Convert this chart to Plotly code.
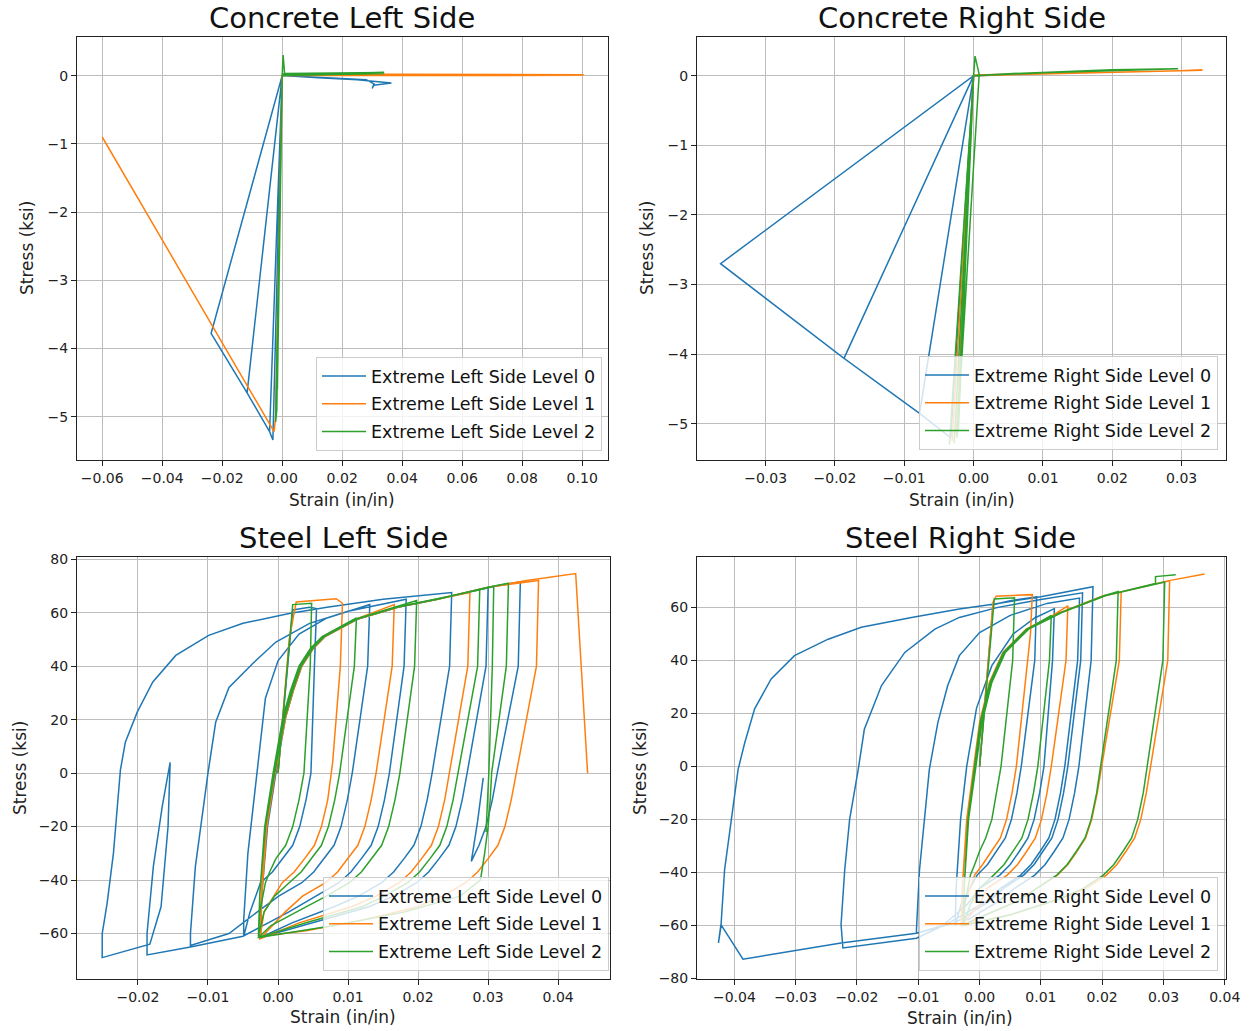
import plotly.graph_objects as go

# ---------------- labels ----------------
titles = ["Concrete Left Side", "Concrete Right Side", "Steel Left Side", "Steel Right Side"]
left_names = ["Extreme Left Side Level 0", "Extreme Left Side Level 1", "Extreme Left Side Level 2"]
right_names = ["Extreme Right Side Level 0", "Extreme Right Side Level 1", "Extreme Right Side Level 2"]
x_label = "Strain (in/in)"
y_label = "Stress (ksi)"
colors = ["#1f77b4", "#ff7f0e", "#2ca02c"]

# tick values / labels
tl_xticks = [-0.06, -0.04, -0.02, 0.0, 0.02, 0.04, 0.06, 0.08, 0.10]
tl_xtext = ["\u22120.06", "\u22120.04", "\u22120.02", "0.00", "0.02", "0.04", "0.06", "0.08", "0.10"]
tr_xticks = [-0.03, -0.02, -0.01, 0.0, 0.01, 0.02, 0.03]
tr_xtext = ["\u22120.03", "\u22120.02", "\u22120.01", "0.00", "0.01", "0.02", "0.03"]
c_yticks = [0, -1, -2, -3, -4, -5]
c_ytext = ["0", "\u22121", "\u22122", "\u22123", "\u22124", "\u22125"]
bl_xticks = [-0.02, -0.01, 0.0, 0.01, 0.02, 0.03, 0.04]
bl_xtext = ["\u22120.02", "\u22120.01", "0.00", "0.01", "0.02", "0.03", "0.04"]
bl_yticks = [80, 60, 40, 20, 0, -20, -40, -60]
bl_ytext = ["80", "60", "40", "20", "0", "\u221220", "\u221240", "\u221260"]
br_xticks = [-0.04, -0.03, -0.02, -0.01, 0.0, 0.01, 0.02, 0.03, 0.04]
br_xtext = ["\u22120.04", "\u22120.03", "\u22120.02", "\u22120.01", "0.00", "0.01", "0.02", "0.03", "0.04"]
br_yticks = [60, 40, 20, 0, -20, -40, -60, -80]
br_ytext = ["60", "40", "20", "0", "\u221220", "\u221240", "\u221260", "\u221280"]

# ---------------- Concrete Left Side (strain, stress) ----------------
cl0 = [(0.0, 0.0), (-0.0031, -5.34), (-0.0042, -5.22), (0.0, 0.0), (-0.0042, -5.22), (-0.0117, -4.65),
       (0.0, 0.0), (-0.0117, -4.65), (-0.0237, -3.78), (0.0, 0.0), (0.012, -0.03), (0.025, -0.06),
       (0.0364, -0.11), (0.0305, -0.14), (0.0300, -0.19), (0.0306, -0.12), (0.028, -0.06), (0.0, 0.0)]
cl1 = [(0.0, 0.0), (0.1005, 0.012), (0.0, 0.022), (0.1003, 0.004), (0.0, 0.0),
       (-0.0022, -5.0), (-0.0027, -5.22), (-0.06, -0.9)]
cl2 = [(0.0, 0.0), (0.0003, 0.30), (0.0008, 0.03), (0.034, 0.045), (0.0, 0.02), (0.034, 0.03), (0.0, 0.0),
       (-0.0018, -4.9), (-0.0022, -5.08), (0.0, 0.0), (-0.0016, -4.6), (0.0, 0.0), (-0.0020, -5.0), (0.0, 0.0)]

# ---------------- Concrete Right Side ----------------
cr0 = [(0.0, 0.0), (-0.0033, -5.2), (-0.0078, -4.85), (0.0, 0.0), (-0.0078, -4.85), (-0.0187, -4.06),
       (0.0, 0.0), (-0.0187, -4.06), (-0.0365, -2.70), (0.0, 0.0), (0.004, 0.01), (0.0, 0.0)]
cr1 = [(0.0, 0.0), (-0.0025, -5.15), (0.0, 0.0), (-0.0031, -5.25), (0.0, 0.0), (0.008, 0.02),
       (0.016, 0.04), (0.025, 0.06), (0.033, 0.077), (0.02, 0.05), (0.0, 0.01)]
cr2 = [(0.0, 0.0), (0.0002, 0.28), (0.0008, 0.02), (-0.0024, -5.2), (0.0, 0.0), (-0.0028, -5.28),
       (0.0, 0.0), (-0.0035, -5.3), (0.0, 0.0), (-0.0022, -5.1), (0.0, 0.0), (0.0057, 0.03),
       (0.0114, 0.05), (0.02, 0.086), (0.0295, 0.10), (0.02, 0.075), (0.01, 0.04), (0.0, 0.0)]

# ---------------- Steel Left Side ----------------
sl0 = [(0.0, 0), (0.0021, 61), (0.0045, 62), (0.0055, 61.5),
       (0.0052, 40), (0.0047, 0), (0.0040, -10), (0.0031, -20), (0.0021, -27), (0.0007, -32), (-0.0008, -37), (-0.0025, -41), (-0.0040, -52), (-0.0049, -61),
       (-0.0049, -55), (-0.0043, -30), (-0.0030, 0), (-0.0018, 28), (0.0000, 42), (0.0030, 52), (0.0070, 58), (0.0131, 63),
       (0.0128, 40), (0.0106, 0), (0.0099, -10), (0.0090, -20), (0.0080, -27), (0.0066, -32), (0.0051, -37), (0.0034, -41), (0.0001, -46), (-0.0030, -52), (-0.0070, -60), (-0.0125, -64.5),
       (-0.0125, -60), (-0.0118, -35), (-0.0100, 0), (-0.0089, 19), (-0.0070, 32), (-0.0036, 41), (-0.0003, 49), (0.0045, 56), (0.0100, 60.5), (0.0183, 65),
       (0.0180, 40), (0.0159, 0), (0.0152, -10), (0.0143, -20), (0.0133, -27), (0.0119, -32), (0.0104, -37), (0.0087, -41), (0.0054, -46), (0.0015, -52), (-0.0050, -61), (-0.0125, -65), (-0.0187, -68),
       (-0.0187, -60), (-0.0178, -35), (-0.0165, -12), (-0.0154, 4),
       (-0.0157, -20), (-0.0167, -50), (-0.0183, -64), (-0.0251, -69),
       (-0.0251, -60), (-0.0244, -48.7), (-0.0235, -30), (-0.0225, 1.2), (-0.0218, 11.5), (-0.0201, 22.8), (-0.0179, 34), (-0.0146, 44), (-0.0099, 51.5), (-0.0050, 56), (0.0016, 59.7), (0.0070, 62), (0.0150, 65), (0.0248, 67.5),
       (0.0245, 40), (0.0220, 0), (0.0213, -10), (0.0204, -20), (0.0194, -27), (0.0180, -32), (0.0165, -37), (0.0148, -41), (0.0115, -46), (0.0080, -50), (0.0020, -56), (-0.0025, -61.5),
       (-0.0023, -45), (-0.0016, -20), (-0.0004, 0), (0.0010, 21), (0.0021, 31), (0.0033, 40), (0.0049, 46.5), (0.0066, 51), (0.0112, 57.5), (0.0170, 62), (0.0227, 65), (0.0300, 69.3),
       (0.0297, 40), (0.0270, 0), (0.0263, -10), (0.0254, -20), (0.0244, -27), (0.0230, -32), (0.0215, -37), (0.0198, -41), (0.0165, -46), (0.0130, -50), (0.0050, -56), (-0.0025, -61.5),
       (-0.0023, -45), (-0.0015, -20), (-0.0003, 0), (0.0011, 21), (0.0022, 31), (0.0034, 40), (0.0050, 46.5), (0.0067, 51), (0.0113, 57.5), (0.0171, 62), (0.0228, 65), (0.0301, 69.5), (0.0346, 71.5),
       (0.0343, 40), (0.0313, 0), (0.0306, -10), (0.0297, -20), (0.0287, -27), (0.0276, -33), (0.0285, -18), (0.0293, -1.8)]

sl1 = [(0.0, 0), (0.0016, 50), (0.0026, 64), (0.0050, 64.6), (0.0083, 65.2), (0.0092, 63.5),
       (0.0089, 40), (0.0078, 4), (0.0071, -10), (0.0062, -20), (0.0052, -27), (0.0038, -32), (0.0023, -37), (0.0006, -41), (-0.0020, -52), (-0.0026, -62),
       (-0.0024, -45), (-0.0017, -20), (-0.0005, 0), (0.0009, 21), (0.0020, 31), (0.0031, 40), (0.0047, 46.5), (0.0064, 51), (0.0110, 57.5), (0.0166, 63),
       (0.0163, 40), (0.0140, 0), (0.0133, -10), (0.0124, -20), (0.0114, -27), (0.0100, -32), (0.0085, -37), (0.0068, -41), (0.0035, -46), (0.0010, -52), (-0.0026, -62),
       (-0.0024, -45), (-0.0017, -20), (-0.0005, 0), (0.0009, 21), (0.0020, 31), (0.0032, 40), (0.0048, 46.5), (0.0065, 51), (0.0111, 57.5), (0.0169, 62), (0.0226, 65), (0.0274, 67.5),
       (0.0271, 40), (0.0245, 0), (0.0238, -10), (0.0229, -20), (0.0219, -27), (0.0205, -32), (0.0190, -37), (0.0173, -41), (0.0140, -46), (0.0105, -50), (0.0030, -56), (-0.0026, -62),
       (-0.0024, -45), (-0.0016, -20), (-0.0004, 0), (0.0010, 21), (0.0021, 31), (0.0033, 40), (0.0049, 46.5), (0.0066, 51), (0.0112, 57.5), (0.0170, 62), (0.0227, 65), (0.0300, 69.5), (0.0372, 72),
       (0.0369, 40), (0.0340, 0), (0.0333, -10), (0.0324, -20), (0.0314, -27), (0.0300, -32), (0.0285, -37), (0.0268, -41), (0.0235, -46), (0.0200, -50), (0.0120, -55), (0.0040, -59), (-0.0025, -61),
       (-0.0023, -45), (-0.0016, -20), (-0.0004, 0), (0.0011, 21), (0.0022, 31), (0.0034, 40), (0.0050, 46.5), (0.0067, 51), (0.0113, 57.5), (0.0171, 62), (0.0228, 65), (0.0301, 69.5), (0.0355, 72), (0.0425, 74.6), (0.0442, 0)]

sl2 = [(0.0, 0), (0.0021, 63), (0.0048, 63.5),
       (0.0046, 40), (0.0037, 0), (0.0030, -10), (0.0021, -20), (0.0011, -27), (-0.0003, -32), (-0.0012, -37), (-0.0018, -41), (-0.0026, -52), (-0.0028, -61),
       (-0.0026, -45), (-0.0019, -20), (-0.0007, 0), (0.0007, 21), (0.0018, 31), (0.0030, 40), (0.0046, 46.5), (0.0063, 51), (0.0112, 58),
       (0.0109, 40), (0.0088, 0), (0.0081, -10), (0.0072, -20), (0.0062, -27), (0.0048, -32), (0.0033, -37), (0.0016, -41), (-0.0005, -46), (-0.0020, -52), (-0.0028, -61),
       (-0.0026, -45), (-0.0019, -20), (-0.0006, 0), (0.0008, 21), (0.0019, 31), (0.0031, 40), (0.0047, 46.5), (0.0064, 51), (0.0110, 57.5), (0.0168, 62), (0.0198, 64.5),
       (0.0195, 40), (0.0174, 0), (0.0167, -10), (0.0158, -20), (0.0148, -27), (0.0134, -32), (0.0119, -37), (0.0102, -41), (0.0069, -46), (0.0040, -50), (-0.0010, -57), (-0.0028, -61.5),
       (-0.0026, -45), (-0.0018, -20), (-0.0006, 0), (0.0009, 21), (0.0020, 31), (0.0032, 40), (0.0048, 46.5), (0.0065, 51), (0.0111, 57.5), (0.0169, 62), (0.0226, 65), (0.0288, 68.5),
       (0.0285, 40), (0.0257, 0), (0.0250, -10), (0.0241, -20), (0.0231, -27), (0.0217, -32), (0.0202, -37), (0.0185, -41), (0.0152, -46), (0.0120, -50), (0.0040, -56), (-0.0028, -61.5),
       (-0.0026, -45), (-0.0018, -20), (-0.0005, 0), (0.0010, 21), (0.0021, 31), (0.0033, 40), (0.0049, 46.5), (0.0066, 51), (0.0112, 57.5), (0.0170, 62), (0.0227, 65), (0.0300, 69.5), (0.0329, 71),
       (0.0326, 40), (0.0305, 0), (0.0303, -10), (0.0300, -20), (0.0295, -30), (0.0289, -40), (0.0260, -46), (0.0180, -52), (0.0080, -57), (-0.0028, -61.5),
       (-0.0026, -45), (-0.0018, -20), (-0.0005, 0), (0.0010, 21), (0.0021, 31), (0.0033, 40), (0.0049, 46.5), (0.0066, 51), (0.0112, 57.5), (0.0170, 62), (0.0227, 65), (0.0308, 69.8),
       (0.0306, 40), (0.0301, 0), (0.0297, -22)]

# ---------------- Steel Right Side ----------------
sr0 = [(0.0, 0), (0.0022, 61), (0.0050, 62.5), (0.0093, 64),
       (0.0090, 40), (0.0068, 0), (0.0061, -10), (0.0052, -20), (0.0042, -27), (0.0028, -32), (0.0013, -37), (-0.0004, -41), (-0.0030, -52), (-0.0040, -60),
       (-0.0038, -45), (-0.0031, -20), (-0.0021, 0), (-0.0005, 22), (0.0020, 38), (0.0055, 50), (0.0090, 56), (0.0122, 59.5),
       (0.0119, 40), (0.0105, 0), (0.0098, -10), (0.0089, -20), (0.0079, -27), (0.0065, -32), (0.0050, -37), (0.0033, -41), (0.0000, -46), (-0.0020, -52), (-0.0060, -60), (-0.0103, -62.9),
       (-0.0103, -61.6), (-0.0098, -39), (-0.0090, -20), (-0.0082, -1.2), (-0.0068, 16.6), (-0.0052, 30.5), (-0.0033, 41.8), (0.0000, 50.5), (0.0050, 57), (0.0110, 61.5), (0.0163, 63.5),
       (0.0160, 40), (0.0139, 0), (0.0132, -10), (0.0123, -20), (0.0113, -27), (0.0099, -32), (0.0084, -37), (0.0067, -41), (0.0034, -46), (0.0010, -51), (-0.0050, -59), (-0.0103, -64.8), (-0.0223, -68.5),
       (-0.0226, -59.7), (-0.0220, -39), (-0.0212, -20), (-0.0198, -1.2), (-0.0188, 14), (-0.0160, 30.5), (-0.0122, 43), (-0.0073, 51.8), (-0.0033, 56.2), (0.0030, 60), (0.0100, 63), (0.0168, 65.5),
       (0.0165, 40), (0.0144, 0), (0.0137, -10), (0.0128, -20), (0.0118, -27), (0.0104, -32), (0.0089, -37), (0.0072, -41), (0.0039, -46), (0.0015, -51), (-0.0040, -59), (-0.0103, -62.9), (-0.0226, -66.6), (-0.0386, -72.7), (-0.0422, -59.7), (-0.0426, -66.6), (-0.0422, -60.5),
       (-0.0416, -39), (-0.0405, -20), (-0.0394, -1.2), (-0.0383, 9), (-0.0367, 21.7), (-0.0340, 33), (-0.0302, 41.8), (-0.0247, 48), (-0.0193, 52.5), (-0.0111, 56.2), (-0.0033, 59.4), (0.0030, 61.5), (0.0100, 64), (0.0185, 67.8),
       (0.0182, 40), (0.0162, 0), (0.0155, -10), (0.0146, -20), (0.0136, -27), (0.0122, -32), (0.0107, -37), (0.0090, -41), (0.0057, -46), (0.0030, -51), (-0.0020, -58)]

sr1 = [(0.0, 0), (0.0022, 62), (0.0027, 64.2), (0.0086, 64.8),
       (0.0083, 50), (0.0060, 0), (0.0053, -10), (0.0044, -20), (0.0034, -27), (0.0020, -32), (0.0005, -37), (-0.0008, -41), (-0.0025, -52), (-0.0030, -60),
       (-0.0028, -45), (-0.0021, -20), (-0.0011, -3.5), (0.0000, 16.6), (0.0016, 31.7), (0.0038, 43), (0.0076, 51.8), (0.0116, 56.5), (0.0144, 60.6),
       (0.0141, 40), (0.0117, 0), (0.0110, -10), (0.0101, -20), (0.0091, -27), (0.0077, -32), (0.0062, -37), (0.0045, -41), (0.0012, -46), (0.0000, -52), (-0.0030, -60),
       (-0.0028, -45), (-0.0021, -20), (-0.0011, -3.5), (0.0001, 16.6), (0.0017, 31.7), (0.0039, 43), (0.0077, 51.8), (0.0131, 58), (0.0202, 64.4), (0.0231, 65.7),
       (0.0228, 40), (0.0199, 0), (0.0192, -10), (0.0183, -20), (0.0173, -27), (0.0159, -32), (0.0144, -37), (0.0127, -41), (0.0094, -46), (0.0060, -51), (0.0000, -57), (-0.0030, -60),
       (-0.0028, -45), (-0.0021, -20), (-0.0010, -3.5), (0.0002, 16.6), (0.0018, 31.7), (0.0040, 43), (0.0078, 51.8), (0.0132, 58), (0.0203, 64.4), (0.0310, 70),
       (0.0307, 40), (0.0279, 0), (0.0272, -10), (0.0263, -20), (0.0253, -27), (0.0239, -32), (0.0224, -37), (0.0207, -41), (0.0174, -46), (0.0130, -50), (0.0050, -56), (-0.0030, -60),
       (-0.0028, -45), (-0.0020, -20), (-0.0010, -3.5), (0.0003, 16.6), (0.0019, 31.7), (0.0041, 43), (0.0079, 51.8), (0.0133, 58), (0.0204, 64.4), (0.0307, 70), (0.0367, 72.6)]

sr2 = [(0.0, 0), (0.0024, 63.2), (0.0057, 63.6),
       (0.0054, 40), (0.0035, 0), (0.0028, -10), (0.0020, -20), (0.0010, -27), (0.0000, -32), (-0.0008, -37), (-0.0015, -41), (-0.0024, -52), (-0.0027, -60),
       (-0.0025, -45), (-0.0018, -20), (-0.0009, -3.5), (0.0002, 16.6), (0.0018, 31.7), (0.0040, 43), (0.0078, 51.8), (0.0117, 57),
       (0.0114, 40), (0.0095, 0), (0.0088, -10), (0.0079, -20), (0.0069, -27), (0.0055, -32), (0.0040, -37), (0.0023, -41), (0.0000, -46), (-0.0015, -52), (-0.0027, -60),
       (-0.0025, -45), (-0.0019, -20), (-0.0010, -3.5), (0.0001, 16.6), (0.0017, 31.7), (0.0039, 43), (0.0077, 51.8), (0.0132, 58), (0.0203, 64.4), (0.0226, 66),
       (0.0223, 40), (0.0198, 0), (0.0191, -10), (0.0182, -20), (0.0172, -27), (0.0158, -32), (0.0143, -37), (0.0126, -41), (0.0093, -46), (0.0060, -51), (0.0000, -57), (-0.0027, -60),
       (-0.0025, -45), (-0.0018, -20), (-0.0009, -3.5), (0.0003, 16.6), (0.0019, 31.7), (0.0041, 43), (0.0079, 51.8), (0.0133, 58), (0.0204, 64.4), (0.0302, 69.6),
       (0.0299, 40), (0.0274, 0), (0.0267, -10), (0.0258, -20), (0.0248, -27), (0.0234, -32), (0.0219, -37), (0.0202, -41), (0.0169, -46), (0.0130, -50), (0.0050, -56), (-0.0027, -60),
       (-0.0025, -45), (-0.0018, -20), (-0.0008, -3.5), (0.0004, 16.6), (0.0020, 31.7), (0.0042, 43), (0.0080, 51.8), (0.0134, 58), (0.0205, 64.4), (0.0287, 69), (0.0287, 71.6), (0.0320, 72.3)]

panels = [
    ("x", "y", "legend", left_names, [cl0, cl1, cl2]),
    ("x2", "y2", "legend2", right_names, [cr0, cr1, cr2]),
    ("x3", "y3", "legend3", left_names, [sl0, sl1, sl2]),
    ("x4", "y4", "legend4", right_names, [sr0, sr1, sr2]),
]

fig = go.Figure()
for p, (xa, ya, lg, names, series) in enumerate(panels):
    for i, pts in enumerate(series):
        sx = [pt[0] for pt in pts]
        sy = [pt[1] for pt in pts]
        fig.add_trace(go.Scatter(x=sx, y=sy, mode="lines", name=names[i],
                                 line=dict(color=colors[i], width=1.5),
                                 legendgroup="g%d_%d" % (p, i),
                                 xaxis=xa, yaxis=ya, legend=lg, hoverinfo="skip"))

W, H = 1250, 1031
FONT = "DejaVu Sans"

def ax(domain, rng, tv, tt, anchor):
    return dict(domain=domain, range=rng, tickvals=tv, ticktext=tt, anchor=anchor,
                showline=True, linecolor="#222", linewidth=1, mirror=True,
                ticks="outside", ticklen=5, tickwidth=1, tickcolor="#222",
                showgrid=True, gridcolor="#bdbdbd", gridwidth=1, zeroline=False,
                tickfont=dict(size=14, color="#222", family=FONT), fixedrange=True)

xd_l = [77 / W, 608 / W]
xd_r = [697 / W, 1226 / W]
xd_bl = [77 / W, 610 / W]
yd_t = [1 - 460 / H, 1 - 37 / H]
yd_b = [1 - 979 / H, 1 - 557 / H]

def legend_at(xr, yb):
    return dict(x=xr / W, y=1 - yb / H, xanchor="right", yanchor="bottom",
                xref="paper", yref="paper", itemwidth=44, tracegroupgap=2,
                bgcolor="rgba(255,255,255,0.8)", bordercolor="#cccccc", borderwidth=1,
                font=dict(size=17.5, color="#111", family=FONT))

fig.update_layout(
    width=W, height=H, autosize=False, margin=dict(l=0, r=0, t=0, b=0, autoexpand=False),
    paper_bgcolor="white", plot_bgcolor="white",
    font=dict(family=FONT, color="#222"),
    showlegend=True,
    xaxis=ax(xd_l, [-0.0684, 0.1086], tl_xticks, tl_xtext, "y"),
    yaxis=ax(yd_t, [-5.635, 0.566], c_yticks, c_ytext, "x"),
    xaxis2=ax(xd_r, [-0.0399, 0.0364], tr_xticks, tr_xtext, "y2"),
    yaxis2=ax(yd_t, [-5.52, 0.555], c_yticks, c_ytext, "x2"),
    xaxis3=ax(xd_bl, [-0.0287, 0.0474], bl_xticks, bl_xtext, "y3"),
    yaxis3=ax(yd_b, [-77.0, 80.8], bl_yticks, bl_ytext, "x3"),
    xaxis4=ax(xd_r, [-0.0461, 0.0402], br_xticks, br_xtext, "y4"),
    yaxis4=ax(yd_b, [-80.2, 79.0], br_yticks, br_ytext, "x4"),
    legend=legend_at(602, 451),
    legend2=legend_at(1218, 450),
    legend3=legend_at(609, 971),
    legend4=legend_at(1218, 971),
)

annotations = []
title_pos = [(342, 18), (962, 18), (343, 538), (960, 538)]
for t, (tx, ty) in zip(titles, title_pos):
    annotations.append(dict(text=t, x=tx / W, y=1 - ty / H, xref="paper", yref="paper",
                            xanchor="center", yanchor="middle", showarrow=False,
                            font=dict(size=29, color="#111", family=FONT)))
xlab_pos = [(342, 500), (962, 500), (343, 1017), (960, 1018)]
for tx, ty in xlab_pos:
    annotations.append(dict(text=x_label, x=tx / W, y=1 - ty / H, xref="paper", yref="paper",
                            xanchor="center", yanchor="middle", showarrow=False,
                            font=dict(size=17, color="#222", family=FONT)))
ylab_pos = [(27, 248), (647, 248), (20, 768), (640, 768)]
for tx, ty in ylab_pos:
    annotations.append(dict(text=y_label, x=tx / W, y=1 - ty / H, xref="paper", yref="paper",
                            xanchor="center", yanchor="middle", showarrow=False, textangle=-90,
                            font=dict(size=17, color="#222", family=FONT)))
fig.update_layout(annotations=annotations)

fig.write_html("out.html", config={"responsive": False})
